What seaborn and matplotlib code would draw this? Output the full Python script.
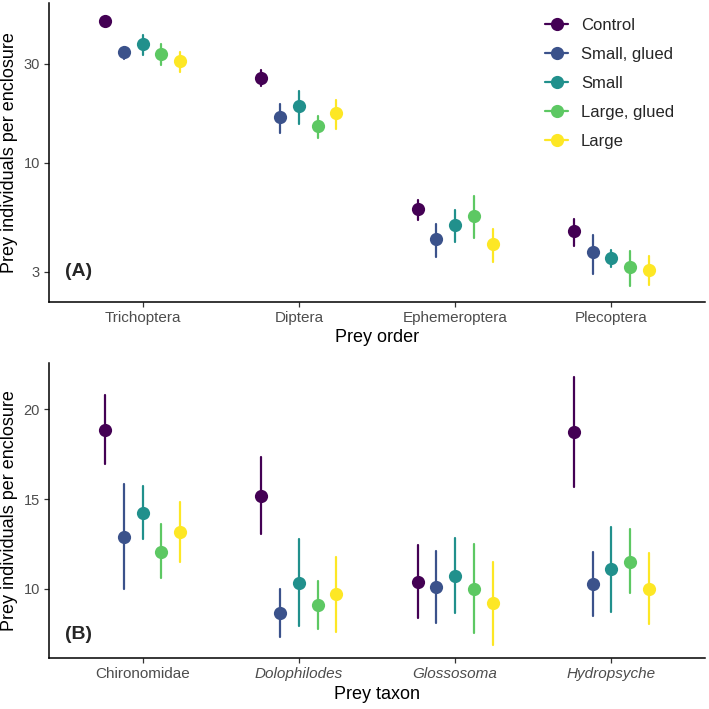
import pandas as pd
import matplotlib
matplotlib.use("Agg")
import matplotlib.pyplot as plt
from matplotlib.lines import Line2D
import seaborn as sns

# treatments and viridis colours
TREATMENTS = ["Control", "Small, glued", "Small", "Large, glued", "Large"]
COLORS = ["#440154", "#3B528B", "#21908C", "#5DC863", "#FDE725"]

# panel A: prey orders (rows = order, columns = treatment)
ORDERS = ["Trichoptera", "Diptera", "Ephemeroptera", "Plecoptera"]
ORDER_MEAN = [
    [48.2, 34.4, 37.3, 33.4, 30.8],
    [25.7, 16.6, 18.9, 15.1, 17.4],
    [5.98, 4.33, 5.05, 5.58, 4.08],
    [4.71, 3.73, 3.48, 3.16, 3.07],
]
ORDER_LOW = [
    [46.5, 31.7, 33.2, 29.7, 27.3],
    [23.4, 13.9, 15.4, 13.2, 14.6],
    [5.30, 3.54, 4.17, 4.36, 3.33],
    [3.97, 2.93, 3.15, 2.55, 2.60],
]
ORDER_HIGH = [
    [50.0, 36.2, 41.4, 37.3, 34.4],
    [27.9, 19.2, 22.3, 16.9, 20.2],
    [6.66, 5.10, 5.96, 6.91, 4.82],
    [5.38, 4.52, 3.80, 3.76, 3.57],
]

# panel B: prey taxa
TAXA = ["Chironomidae", "Dolophilodes", "Glossosoma", "Hydropsyche"]
ITALIC_TAXA = ["Dolophilodes", "Glossosoma", "Hydropsyche"]
TAXON_MEAN = [
    [18.87, 12.90, 14.24, 12.06, 13.16],
    [15.19, 8.63, 10.34, 9.09, 9.69],
    [10.39, 10.08, 10.73, 9.98, 9.19],
    [18.72, 10.24, 11.08, 11.51, 9.98],
]
TAXON_LOW = [
    [16.95, 10.00, 12.77, 10.58, 11.47],
    [13.03, 7.32, 7.92, 7.74, 7.60],
    [8.38, 8.07, 8.63, 7.51, 6.86],
    [15.65, 8.48, 8.72, 9.74, 8.02],
]
TAXON_HIGH = [
    [20.80, 15.82, 15.73, 13.59, 14.85],
    [17.33, 9.96, 12.75, 10.45, 11.78],
    [12.44, 12.10, 12.84, 12.49, 11.51],
    [21.82, 12.06, 13.46, 13.31, 12.01],
]


def tidy(cats, mean, low, high):
    rows = []
    for i, c in enumerate(cats):
        for j, t in enumerate(TREATMENTS):
            for v in (low[i][j], mean[i][j], high[i][j]):
                rows.append((c, t, v))
    return pd.DataFrame(rows, columns=["cat", "treatment", "value"])


sns.set_style("ticks")
plt.rcParams["font.family"] = ["Liberation Sans", "DejaVu Sans"]

fig = plt.figure(figsize=(7.09, 7.09), dpi=100)
ax_a = fig.add_axes([0.0691, 0.5745, 0.9253, 0.4213])
ax_b = fig.add_axes([0.0691, 0.0715, 0.9253, 0.4161])

ax_a.set_yscale("log")

for ax, df, cats in [(ax_a, tidy(ORDERS, ORDER_MEAN, ORDER_LOW, ORDER_HIGH), ORDERS),
                     (ax_b, tidy(TAXA, TAXON_MEAN, TAXON_LOW, TAXON_HIGH), TAXA)]:
    sns.pointplot(data=df, x="cat", y="value", hue="treatment", order=cats,
                  hue_order=TREATMENTS, palette=COLORS, estimator="median",
                  errorbar=lambda v: (v.min(), v.max()), dodge=0.48,
                  linestyle="none", markers="o", markersize=9.5,
                  markeredgewidth=0, err_kws={"linewidth": 1.6},
                  legend=False, ax=ax)
    ax.set_xlim(-0.6, 3.6)
    for side in ["top", "right"]:
        ax.spines[side].set_visible(False)
    for side in ["left", "bottom"]:
        ax.spines[side].set_color("black")
        ax.spines[side].set_linewidth(1.1)
    ax.tick_params(axis="both", length=3.5, width=0.9, color="#333333",
                   labelcolor="#4D4D4D", pad=3)
    ax.tick_params(axis="x", labelsize=11)
    ax.tick_params(axis="y", labelsize=10.5)
    ax.set_ylabel("Prey individuals per enclosure", fontsize=13, color="black")
    ax.grid(False)

ax_a.set_ylim(2.15, 58.9)
ax_a.set_yticks([3, 10, 30])
ax_a.set_yticklabels(["3", "10", "30"])
ax_a.minorticks_off()
ax_a.set_xlabel("Prey order", fontsize=13, color="black", labelpad=3)
ax_a.text(-0.5, 3, "(A)", fontsize=14, fontweight="bold", va="center", ha="left")

ax_b.set_ylim(6.12, 22.57)
ax_b.set_yticks([10, 15, 20])
ax_b.set_xlabel("Prey taxon", fontsize=13, color="black", labelpad=3)
ax_b.text(-0.5, 7.47, "(B)", fontsize=14, fontweight="bold", va="center", ha="left")
for lbl in ax_b.get_xticklabels():
    if lbl.get_text() in ITALIC_TAXA:
        lbl.set_fontstyle("italic")

handles = [Line2D([], [], color=c, marker="o", markersize=9.5, markeredgewidth=0,
                  linewidth=1.6) for c in COLORS]
fig.legend(handles, TREATMENTS, loc="upper left", bbox_to_anchor=(0.769, 0.9753),
           frameon=False, fontsize=12, handlelength=1.38, handletextpad=0.76,
           labelspacing=0.84, borderpad=0, borderaxespad=0)

fig.savefig("out.png", dpi=100)
